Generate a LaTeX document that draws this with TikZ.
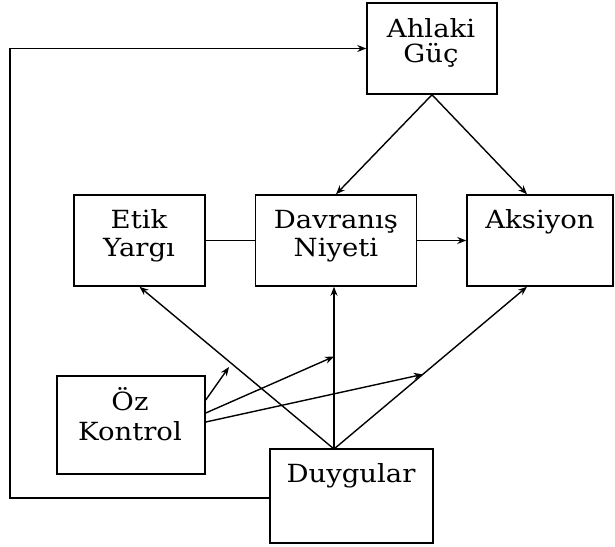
\documentclass[tikz,border=0pt]{standalone}
\usepackage{fontspec}
\setmainfont{DejaVu Serif}[FakeStretch=1.1]
\usetikzlibrary{arrows.meta,calc}
\begin{document}
\begin{tikzpicture}[x=1pt,y=-1pt,
  box/.style={draw, line width=1.5pt, inner sep=0pt, fill=none},
  lbl/.style={anchor=base, inner sep=0pt, font=\fontsize{25}{30}\selectfont},
  conn/.style={line width=1.4pt},
  arr/.style={line width=1.4pt, -{Stealth[length=9pt,width=7pt]}}]
\useasboundingbox (0,0) rectangle (615,546);
% boxes
\node[box, minimum width=130pt, minimum height=91pt] (ahlaki) at (432,48.5) {};
\node[box, minimum width=131pt, minimum height=91pt] (etik) at (139.5,240.5) {};
\node[box, minimum width=161pt, minimum height=91pt] (davr) at (336,240.5) {};
\node[box, minimum width=146pt, minimum height=91pt] (aks) at (540,240.5) {};
\node[box, minimum width=148pt, minimum height=98pt] (oz) at (131,425) {};
\node[box, minimum width=163pt, minimum height=94pt] (duy) at (351.5,496) {};
% labels
\node[lbl] (ahlakiA) at (431,37) {Ahlaki};
\node[lbl] (ahlakiB) at (431,62) {Güç};
\node[lbl] (etikA) at (139,228) {Etik};
\node[lbl] (etikB) at (139,256) {Yargı};
\node[lbl] (davrA) at (336,228) {Davranış};
\node[lbl] (davrB) at (336,256) {Niyeti};
\node[lbl] (aksA) at (540,228) {Aksiyon};
\node[lbl] (ozA) at (130,410) {Öz};
\node[lbl] (ozB) at (130,440) {Kontrol};
\node[lbl] (duyA) at (351,482) {Duygular};
% helper coordinates
\coordinate (loop) at (10,48.5);
\coordinate (dtop) at (334,449);
\coordinate (aksT) at ([xshift=-13pt]aks.north);
\coordinate (aksB) at ([xshift=-13pt]aks.south);
\coordinate (davrB) at (dtop |- davr.south);
\coordinate (m1) at (229,367);
\coordinate (m2) at ($(dtop)!0.57!(davrB)$);
\coordinate (m3) at ($(dtop)!0.46!(aksB)$);
\coordinate (o1) at ([yshift=25pt]oz.east);
\coordinate (o2) at ([yshift=12pt]oz.east);
\coordinate (o3) at ([yshift=3pt]oz.east);
% connectors
\draw[arr] ([yshift=-2pt]duy.west) -| (loop) -- (ahlaki.west);
\draw[arr] (ahlaki.south) -- (davr.north);
\draw[arr] (ahlaki.south) -- (aksT);
\draw[conn] (etik.east) -- (davr.west);
\draw[arr] (davr.east) -- (aks.west);
\draw[arr] (dtop) -- (etik.south);
\draw[arr] (dtop) -- (davrB);
\draw[arr] (dtop) -- (aksB);
\draw[arr] (o1) -- (m1);
\draw[arr] (o2) -- (m2);
\draw[arr] (o3) -- (m3);
\end{tikzpicture}
\end{document}
